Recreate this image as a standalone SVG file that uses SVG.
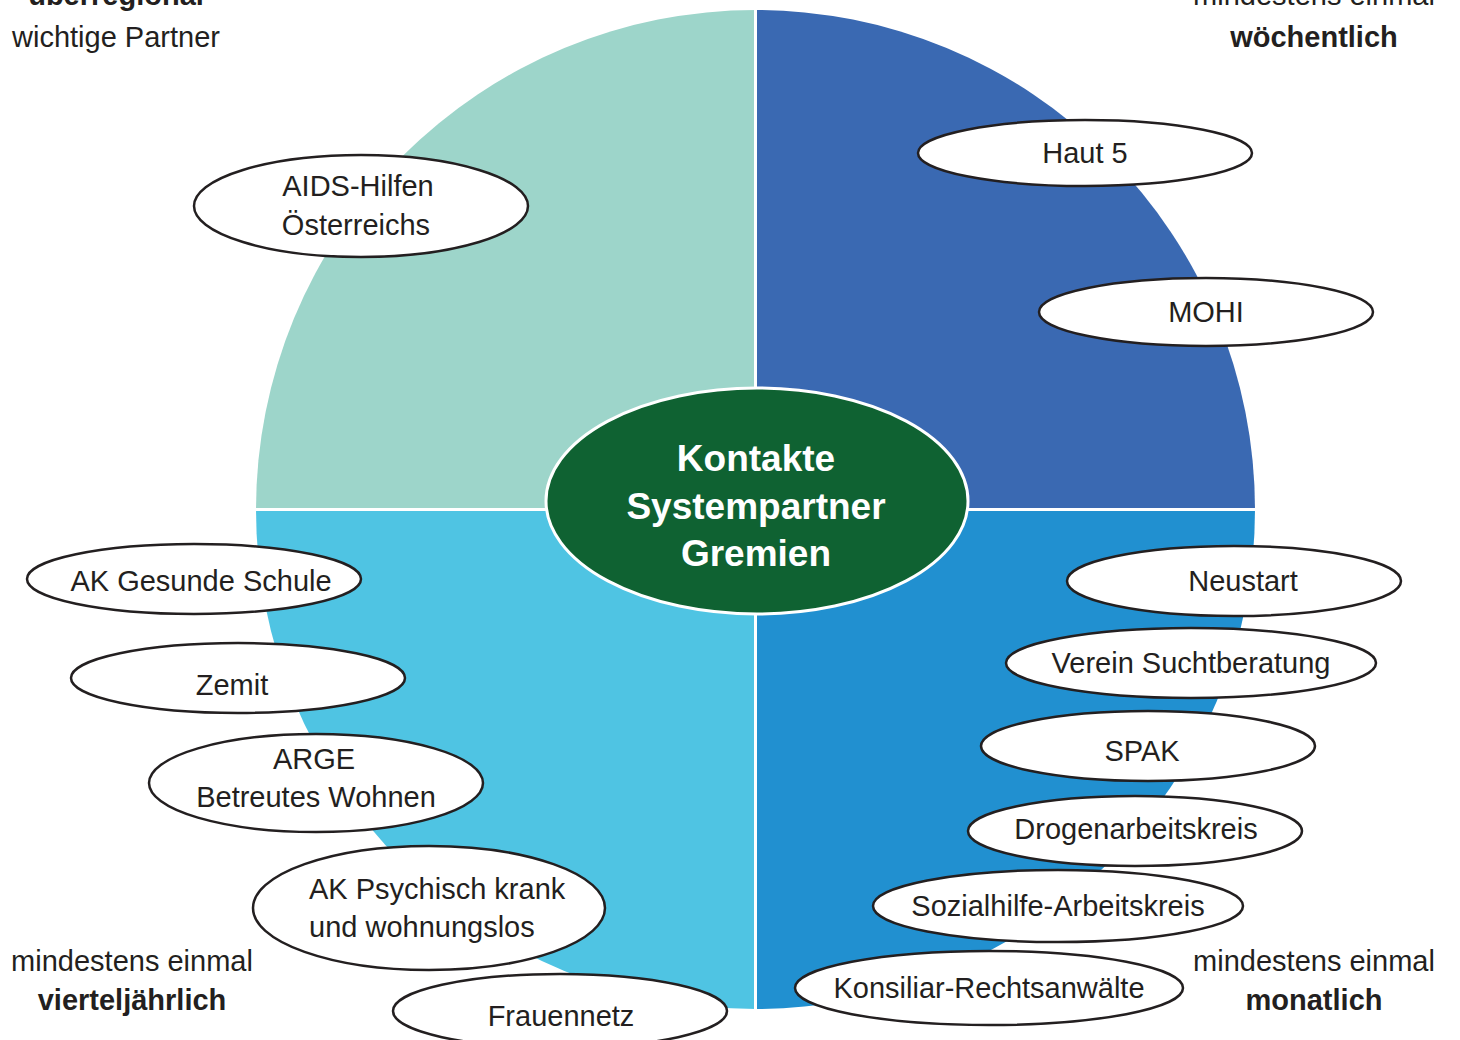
<svg xmlns="http://www.w3.org/2000/svg" width="1460" height="1040" viewBox="0 0 1460 1040">
<style>
.t{font-family:"Liberation Sans",Arial,sans-serif;font-size:29px;fill:#231f20;text-anchor:middle}
.b{font-weight:bold}
.n{fill:#fff;stroke:#231f20;stroke-width:2.5}
.c{font-family:"Liberation Sans",Arial,sans-serif;font-size:37px;font-weight:bold;fill:#fff;text-anchor:middle}
</style>
<rect width="1460" height="1040" fill="#fff"/>
<g id="quadrants">
<path d="M755.5,509.5 L256,509.5 A499.5,499.5 0 0 1 755.5,10 Z" fill="#9dd5ca"/>
<path d="M755.5,509.5 L755.5,10 A499.5,499.5 0 0 1 1255,509.5 Z" fill="#3a69b2"/>
<path d="M755.5,509.5 L1255,509.5 A499.5,499.5 0 0 1 755.5,1009 Z" fill="#2190d0"/>
<path d="M755.5,509.5 L755.5,1009 A499.5,499.5 0 0 1 256,509.5 Z" fill="#4fc4e3"/>
<line x1="755.5" y1="5" x2="755.5" y2="1015" stroke="#fff" stroke-width="3"/>
<line x1="250" y1="509.5" x2="1260" y2="509.5" stroke="#fff" stroke-width="3"/>
</g>
<g id="labels">
<text class="t b" x="116" y="5">überregional</text>
<text class="t" x="116" y="47">wichtige Partner</text>
<text class="t" x="1314" y="5">mindestens einmal</text>
<text class="t b" x="1314" y="47">wöchentlich</text>
<text class="t" x="132" y="971">mindestens einmal</text>
<text class="t b" x="132" y="1010">vierteljährlich</text>
<text class="t" x="1314" y="971">mindestens einmal</text>
<text class="t b" x="1314" y="1010">monatlich</text>
</g>
<g id="connectors"></g>
<g id="center">
<ellipse cx="757" cy="501" rx="211" ry="113" fill="#0f6232" stroke="#fff" stroke-width="3"/>
<text class="c" x="756" y="471">Kontakte</text>
<text class="c" x="756" y="519">Systempartner</text>
<text class="c" x="756" y="566">Gremien</text>
</g>
<g id="haut5"><ellipse class="n" cx="1085" cy="153" rx="167" ry="33"/><text class="t" x="1085" y="163">Haut 5</text></g>
<g id="mohi"><ellipse class="n" cx="1206" cy="312" rx="167" ry="34"/><text class="t" x="1206" y="322">MOHI</text></g>
<g id="aids"><ellipse class="n" cx="361" cy="206" rx="167" ry="51"/><text class="t" x="358" y="196">AIDS-Hilfen</text><text class="t" x="356" y="235">Österreichs</text></g>
<g id="akgs"><ellipse class="n" cx="194" cy="579" rx="167" ry="35"/><text class="t" x="201" y="591">AK Gesunde Schule</text></g>
<g id="zemit"><ellipse class="n" cx="238" cy="678" rx="167" ry="35"/><text class="t" x="232" y="695">Zemit</text></g>
<g id="arge"><ellipse class="n" cx="316" cy="783" rx="167" ry="49"/><text class="t" x="314" y="769">ARGE</text><text class="t" x="316" y="807">Betreutes Wohnen</text></g>
<g id="akpsych"><ellipse class="n" cx="429" cy="908" rx="176" ry="62"/><text class="t" x="309" y="899" style="text-anchor:start">AK Psychisch krank</text><text class="t" x="309" y="937" style="text-anchor:start">und wohnungslos</text></g>
<g id="frauennetz"><ellipse class="n" cx="560" cy="1011" rx="167" ry="37"/><text class="t" x="561" y="1026">Frauennetz</text></g>
<g id="neustart"><ellipse class="n" cx="1234" cy="581" rx="167" ry="35"/><text class="t" x="1243" y="591">Neustart</text></g>
<g id="verein"><ellipse class="n" cx="1191" cy="663" rx="185" ry="35"/><text class="t" x="1191" y="673">Verein Suchtberatung</text></g>
<g id="spak"><ellipse class="n" cx="1148" cy="746" rx="167" ry="35"/><text class="t" x="1142" y="761">SPAK</text></g>
<g id="drogen"><ellipse class="n" cx="1135" cy="831" rx="167" ry="35"/><text class="t" x="1136" y="839">Drogenarbeitskreis</text></g>
<g id="sozial"><ellipse class="n" cx="1058" cy="906" rx="185" ry="36"/><text class="t" x="1058" y="916">Sozialhilfe-Arbeitskreis</text></g>
<g id="konsiliar"><ellipse class="n" cx="989" cy="988" rx="194" ry="37"/><text class="t" x="989" y="998">Konsiliar-Rechtsanwälte</text></g>
</svg>
